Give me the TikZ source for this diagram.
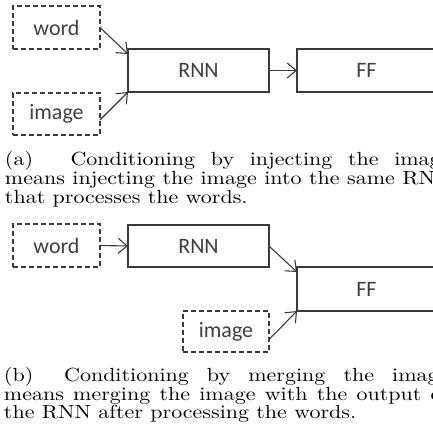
\documentclass[tikz,border=0pt]{standalone}
\usepackage{fontspec}
\usepackage{graphicx}
\newfontfamily\calib{Carlito}
\usetikzlibrary{arrows.meta,calc}
\definecolor{linec}{HTML}{3A3A3A}
\definecolor{textc}{HTML}{404040}
\newcommand{\capjust}[2]{\scalebox{2.2}[1.9]{\makebox[#1][s]{#2}}}
\newcommand{\capnat}[1]{\scalebox{2.2}[1.9]{#1}}
\begin{document}
\begin{tikzpicture}[x=1pt,y=-1pt,
  box/.style={draw=linec, line width=1.2pt, inner sep=0pt, outer sep=0pt,
    font=\calib\fontsize{22}{24}\selectfont, text=textc},
  dbox/.style={box, dash pattern=on 5pt off 3pt},
  arr/.style={draw=linec, line width=1.1pt, -{Straight Barb[length=9pt,width=15pt]}},
  captxt/.style={inner sep=0pt, outer sep=0pt, anchor=base west}]
\useasboundingbox (0,0) rectangle (433,437);
\clip (0,0) rectangle (433,437);
% (a)
\node[dbox, minimum width=87pt, minimum height=43pt] (wordA) at (56.5,27.5) {word};
\node[dbox, minimum width=87pt, minimum height=42pt] (imageA) at (56.5,114) {image};
\node[box, minimum width=141pt, minimum height=43pt] (rnnA) at (198.5,70.5) {RNN};
\node[box, minimum width=139pt, minimum height=43pt] (ffA) at (366.5,70.5) {FF};
\draw[arr] (wordA.east) -- ($(rnnA.north west)+(0,5)$);
\draw[arr] ($(imageA.east)+(0,6)$) -- (rnnA.south west);
\draw[arr] (rnnA.east) -- (ffA.west);
\node[captxt] (capA1) at (5,165) {\capjust{202.5pt}{(a)\hspace{17pt}Conditioning by injecting the image}};
\node[captxt] (capA2) at (5,184) {\capjust{203pt}{means injecting the image into the same RNN}};
\node[captxt] (capA3) at (5,203) {\capnat{that processes the words.}};
% (b)
\node[dbox, minimum width=87pt, minimum height=43pt] (wordB) at (56.5,245.5) {word};
\node[box, minimum width=141pt, minimum height=42pt] (rnnB) at (198.5,246) {RNN};
\node[box, minimum width=139pt, minimum height=44pt] (ffB) at (366.5,289) {FF};
\node[dbox, minimum width=86pt, minimum height=41pt] (imageB) at (226,331.5) {image};
\draw[arr] (wordB.east) -- (rnnB.west);
\draw[arr] (rnnB.east) -- ($(ffB.north west)+(0,5)$);
\draw[arr] ($(imageB.east)+(0,8)$) -- (ffB.south west);
\node[captxt] (capB1) at (4,381) {\capjust{202pt}{(b)\hspace{14pt}Conditioning by merging the image}};
\node[captxt] (capB2) at (4,400) {\capjust{202pt}{means merging the image with the output of}};
\node[captxt] (capB3) at (4,418) {\capnat{the RNN after processing the words.}};
\end{tikzpicture}
\end{document}
